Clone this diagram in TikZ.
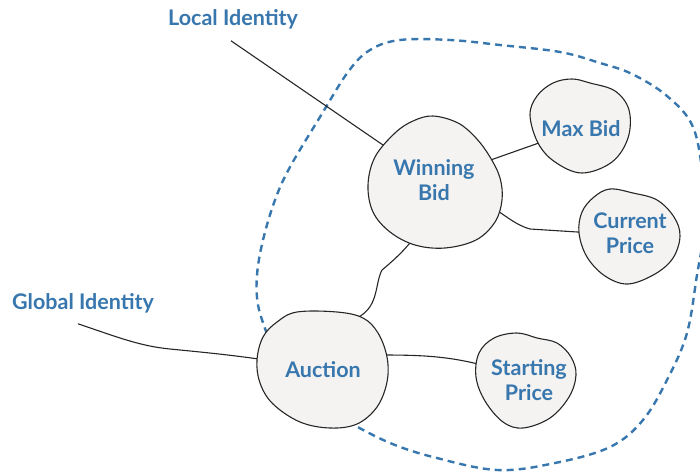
\documentclass[tikz,border=0pt]{standalone}
\usepackage{fontspec}
\setmainfont{Lato}
\usetikzlibrary{backgrounds}
\definecolor{idblue}{HTML}{3877AE}
\definecolor{blobfill}{HTML}{F4F3F2}
\begin{document}
\begin{tikzpicture}[x=1pt,y=-1pt,
  blob/.style={draw=black!85,fill=blobfill,line width=1.1pt},
  lbl/.style={text=idblue,font=\fontsize{21.5}{25}\selectfont\bfseries,align=center,inner sep=0pt},
  link/.style={draw=black!85,line width=1.1pt},
  boundary/.style={draw=idblue,line width=2.4pt,dash pattern=on 7pt off 5pt}]
\useasboundingbox (0,0) rectangle (700,473);

% blobs
\path[blob] plot[smooth cycle,tension=0.6] coordinates {(433,116) (458,123) (476,138) (490,157) (500,178) (502,200) (495,222) (476,240) (445,248) (415,245) (390,232) (373,212) (368,185) (375,157) (395,133) (413,121)};
\path[blob] plot[smooth cycle,tension=0.6] coordinates {(572,79) (590,83) (615,91) (629,110) (628,138) (612,162) (582,173) (555,162) (538,143) (530,115) (537,96) (553,83)};
\path[blob] plot[smooth cycle,tension=0.6] coordinates {(610,189) (633,193) (657,200) (674,217) (680,236) (673,258) (655,274) (628,284) (605,276) (587,257) (579,233) (582,212) (594,197)};
\path[blob] plot[smooth cycle,tension=0.6] coordinates {(297,312) (337,312) (363,318) (378,333) (387,357) (387,382) (377,407) (357,424) (330,428) (300,422) (273,404) (260,383) (257,360) (263,337) (277,322)};
\path[blob] plot[smooth cycle,tension=0.6] coordinates {(517,333) (537,338) (557,343) (571,357) (576,375) (569,397) (550,418) (523,428) (503,422) (485,401) (476,377) (479,353) (494,338)};

% labels
\node[lbl,anchor=base] (loc) at (233,26) {Local Identity};
\node[lbl,anchor=base] (glob) at (83,309) {Global Identity};
\node[lbl] (win) at (434,180) {Winning\\Bid};
\node[lbl,anchor=base] (max) at (581,136) {Max Bid};
\node[lbl] (cur) at (630,233) {Current\\Price};
\node[lbl,anchor=base] (auc) at (323,377) {Auction};
\node[lbl] (start) at (529,380) {Starting\\Price};

\begin{scope}[on background layer]
  \draw[boundary] plot[smooth,tension=0.6] coordinates {(267,334) (258,305) (257,275) (263,240) (275,200) (290,167) (320,117) (348,72) (370,50) (400,40) (450,40) (500,45) (560,52) (600,63) (632,74) (667,96) (693,127) (703,180) (704,230) (697,275) (687,333) (668,378) (643,420) (610,447) (555,463) (497,470) (433,457) (390,443) (352,424)};
  \draw[link] ([shift={(-2,11)}]loc.south) -- (win.center);
  \draw[link] ([shift={(-5,11)}]glob.south) .. controls (120,338) and (140,346) .. (170,349) .. controls (220,354) and (245,356) .. (auc.center);
  \draw[link] (win.center) -- (max.center);
  \draw[link] (win.center) .. controls (495,200) and (505,222) .. (530,229) -- (cur.west);
  \draw[link] (win.center) .. controls (435,225) and (400,255) .. (382,270) .. controls (374,285) and (380,310) .. (352,320) -- (auc.center);
  \draw[link] (auc.center) -- (380,355) .. controls (420,355) and (445,356) .. (478,364) -- (start.center);
\end{scope}
\end{tikzpicture}
\end{document}
